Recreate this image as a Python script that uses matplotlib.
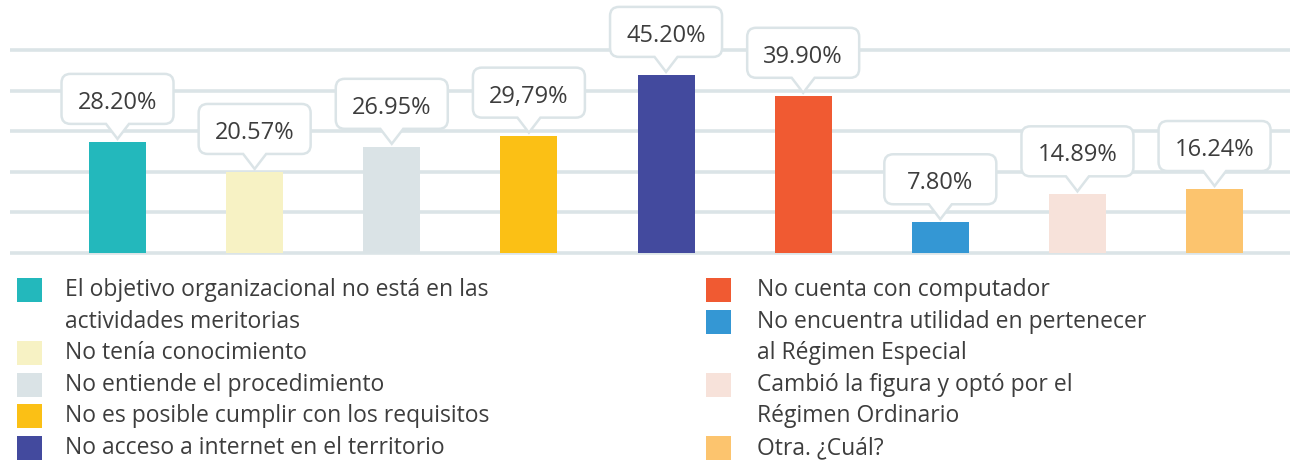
import numpy as np
import matplotlib.pyplot as plt
from matplotlib.path import Path
from matplotlib.patches import PathPatch, Rectangle
from matplotlib.transforms import Affine2D, ScaledTranslation

plt.rcParams['font.family'] = ['Open Sans', 'DejaVu Sans']

labels = [
    'El objetivo organizacional no está en las\nactividades meritorias',
    'No tenía conocimiento',
    'No entiende el procedimiento',
    'No es posible cumplir con los requisitos',
    'No acceso a internet en el territorio',
    'No cuenta con computador',
    'No encuentra utilidad en pertenecer\nal Régimen Especial',
    'Cambió la figura y optó por el\nRégimen Ordinario',
    'Otra. ¿Cuál?',
]
values = [28.20, 20.57, 26.95, 29.79, 45.20, 39.90, 7.80, 14.89, 16.24]
value_text = ['28.20%', '20.57%', '26.95%', '29,79%', '45.20%',
              '39.90%', '7.80%', '14.89%', '16.24%']
colors = ['#23b8bc', '#f7f2c4', '#dae3e6', '#fbc015', '#434a9e',
          '#f05a32', '#3497d4', '#f7e2da', '#fcc46e']

text_color = '#3d3d3d'
grid_color = '#dbe4e7'

W, H = 1290, 462
fig = plt.figure(figsize=(W / 100, H / 100), dpi=100)

# bar area: baseline at y=253px, 3.94 px per percentage point
px_per_unit = 3.94
ax = fig.add_axes([10 / W, (H - 260) / H, (W - 10) / W, 260 / H])
x = np.arange(len(values))
ax.set_xlim(-0.784, 8.55)
ax.set_ylim(-7 / px_per_unit, 253 / px_per_unit)
ax.bar(x, values, width=0.416, color=colors, zorder=2)

ax.set_yticks(np.arange(6) * 40.6 / px_per_unit)
ax.grid(axis='y', color=grid_color, linewidth=2.6)
ax.set_axisbelow(True)
ax.set_xticks([])
ax.tick_params(left=False, labelleft=False)
for s in ax.spines.values():
    s.set_visible(False)


def callout_path(w=112, h=50, r=9, pw=11.5, ph=15, gap=3):
    hw = w / 2
    y0 = gap + ph
    y1 = y0 + h
    verts = [(0, gap), (pw, y0), (hw - r, y0), (hw, y0), (hw, y0 + r),
             (hw, y1 - r), (hw, y1), (hw - r, y1), (-hw + r, y1), (-hw, y1),
             (-hw, y1 - r), (-hw, y0 + r), (-hw, y0), (-hw + r, y0),
             (-pw, y0), (0, gap)]
    codes = [Path.MOVETO, Path.LINETO, Path.LINETO, Path.CURVE3, Path.CURVE3,
             Path.LINETO, Path.CURVE3, Path.CURVE3, Path.LINETO, Path.CURVE3,
             Path.CURVE3, Path.LINETO, Path.CURVE3, Path.CURVE3, Path.LINETO,
             Path.CLOSEPOLY]
    return Path(verts, codes)


path = callout_path()
for xi, v, t in zip(x, values, value_text):
    tr = Affine2D() + ScaledTranslation(xi, v, ax.transData)
    ax.add_patch(PathPatch(path, transform=tr, facecolor='white',
                           edgecolor=grid_color, linewidth=1.8, zorder=3,
                           clip_on=False))
    ax.annotate(t, (xi, v), xytext=(0, (3 + 15 + 24) * 0.72),
                textcoords='offset points', ha='center', va='center_baseline',
                fontsize=17, color=text_color, zorder=4)

# legend, two columns drawn by hand
line_h = 31.6
first_base = 296
columns = [(0, 5, 17, 65), (5, 9, 706, 757)]
for start, stop, sx, tx in columns:
    line = 0
    for i in range(start, stop):
        base = first_base + line * line_h
        fig.add_artist(Rectangle((sx / W, (H - base - 6) / H), 25 / W, 24 / H,
                                 transform=fig.transFigure,
                                 facecolor=colors[i], edgecolor='none'))
        for j, part in enumerate(labels[i].split('\n')):
            fig.text(tx / W, (H - base - j * line_h) / H, part,
                     ha='left', va='baseline', fontsize=16.5, color=text_color)
        line += labels[i].count('\n') + 1

fig.savefig('out.png', dpi=100)
